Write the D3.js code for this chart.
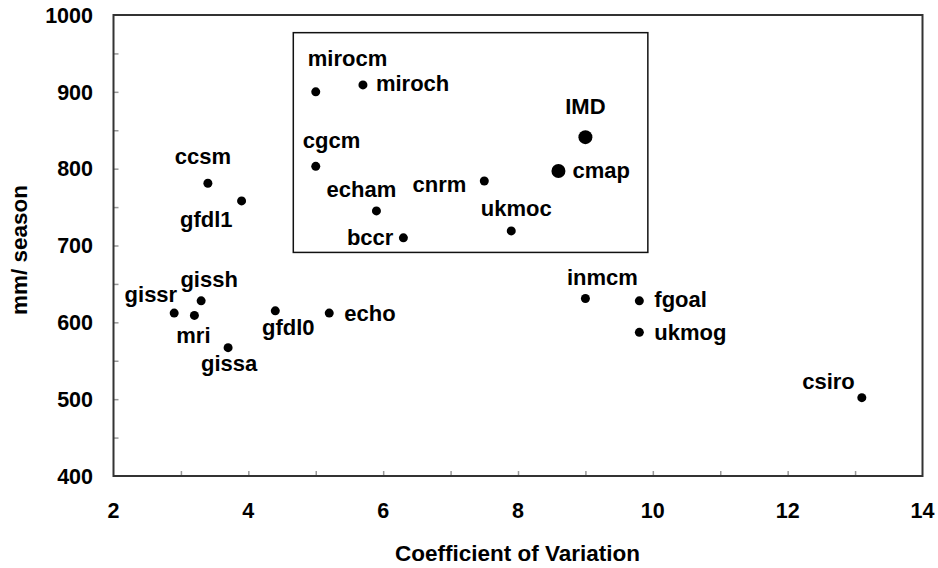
<!DOCTYPE html>
<html>
<head>
<meta charset="utf-8">
<script src="https://cdn.jsdelivr.net/npm/d3@7"></script>
<style>
  html, body { margin: 0; padding: 0; background: #fff; }
  svg text { font-family: "Liberation Sans", Arial, sans-serif; font-weight: bold; fill: #000; }
</style>
</head>
<body>
<svg id="chart" width="938" height="568"></svg>
<script>
// Model names, coefficient of variation and seasonal rainfall (mm/season)
const models = ["mirocm", "miroch", "IMD", "cmap", "cgcm", "cnrm", "echam", "ukmoc", "bccr",
                "ccsm", "gfdl1", "gissh", "gissr", "mri", "gissa", "gfdl0", "echo",
                "inmcm", "fgoal", "ukmog", "csiro"];
const cv = [5.0, 5.7, 9.0, 8.6, 5.0, 7.5, 5.9, 7.9, 6.3,
            3.4, 3.9, 3.3, 2.9, 3.2, 3.7, 4.4, 5.2,
            9.0, 9.8, 9.8, 13.1];
const rainfall = [900, 909, 841, 797, 803, 784, 745, 719, 710,
                  781, 758, 628, 612, 609, 567, 615, 612,
                  631, 628, 587, 502];
// Observed datasets are drawn with larger markers
const observed = ["IMD", "cmap"];

const xTicks = [2, 4, 6, 8, 10, 12, 14];
const yTicks = [400, 500, 600, 700, 800, 900, 1000];

// Label placement relative to each marker: [dx, dy, anchor]
const labelPos = {
  mirocm: [-8, -26, "start"], miroch: [13, 6, "start"], IMD: [0, -23, "middle"],
  cmap: [14, 7, "start"], cgcm: [-13, -18, "start"], cnrm: [-18, 11, "end"],
  echam: [-15, -14, "middle"], ukmoc: [5, -15, "middle"], bccr: [-10, 7, "end"],
  ccsm: [-5, -19, "middle"], gfdl1: [-9, 26, "end"], gissh: [8, -14, "middle"],
  gissr: [3, -11, "end"], mri: [-1, 28, "middle"], gissa: [1, 23, "middle"],
  gfdl0: [13, 24, "middle"], echo: [15, 8, "start"], inmcm: [17, -14, "middle"],
  fgoal: [15, 6, "start"], ukmog: [15, 8, "start"], csiro: [-7, -9, "end"]
};

const svg = d3.select("#chart");
const frame = { left: 113.5, right: 922.5, top: 15, bottom: 476 };

const x = d3.scaleLinear().domain([2, 14]).range([frame.left, frame.right]);
const y = d3.scaleLinear().domain([400, 1000]).range([frame.bottom, frame.top]);

// Minor inward ticks
const tickColor = "#999";
svg.append("g").attr("transform", `translate(0,${frame.bottom})`)
  .call(d3.axisBottom(x).tickValues(d3.range(3, 14, 1)).tickSize(-5).tickFormat(""))
  .call(g => g.select(".domain").remove())
  .call(g => g.selectAll("line").attr("stroke", tickColor).attr("stroke-width", 1.5));
svg.append("g").attr("transform", `translate(${frame.left},0)`)
  .call(d3.axisLeft(y).tickValues(d3.range(450, 1000, 50)).tickSize(-5).tickFormat(""))
  .call(g => g.select(".domain").remove())
  .call(g => g.selectAll("line").attr("stroke", tickColor).attr("stroke-width", 1.5));

// Plot frame
svg.append("rect")
  .attr("x", frame.left).attr("y", frame.top)
  .attr("width", frame.right - frame.left).attr("height", frame.bottom - frame.top)
  .attr("fill", "none").attr("stroke", "#333").attr("stroke-width", 2);

// Tick labels
svg.append("g").selectAll("text").data(xTicks).join("text")
  .attr("x", d => x(d)).attr("y", 518)
  .attr("text-anchor", "middle").attr("font-size", 21.5)
  .text(d => d);
svg.append("g").selectAll("text").data(yTicks).join("text")
  .attr("x", 93).attr("y", d => y(d) + 7.7)
  .attr("text-anchor", "end").attr("font-size", 21.5)
  .text(d => d);

// Axis titles
svg.append("text")
  .attr("x", 517.5).attr("y", 561)
  .attr("text-anchor", "middle").attr("font-size", 22.5)
  .text("Coefficient of Variation");
svg.append("text")
  .attr("transform", "translate(26.5,250) rotate(-90)")
  .attr("text-anchor", "middle").attr("font-size", 22.5)
  .text("mm/ season");

// Box grouping the wetter models with observations
const boxX = [4.667, 9.926], boxY = [691, 977];
svg.append("rect")
  .attr("x", x(boxX[0])).attr("y", y(boxY[1]))
  .attr("width", x(boxX[1]) - x(boxX[0]))
  .attr("height", y(boxY[0]) - y(boxY[1]))
  .attr("fill", "none").attr("stroke", "#111").attr("stroke-width", 1.5);

// Markers and labels
const pts = models.map((m, i) => ({ name: m, cv: cv[i], rain: rainfall[i] }));
svg.append("g").selectAll("circle").data(pts).join("circle")
  .attr("cx", d => x(d.cv)).attr("cy", d => y(d.rain))
  .attr("r", d => observed.includes(d.name) ? 7 : 4.5)
  .attr("fill", "#000");
svg.append("g").selectAll("text").data(pts).join("text")
  .attr("x", d => x(d.cv) + labelPos[d.name][0])
  .attr("y", d => y(d.rain) + labelPos[d.name][1])
  .attr("text-anchor", d => labelPos[d.name][2])
  .attr("font-size", 22)
  .text(d => d.name);
</script>
</body>
</html>
